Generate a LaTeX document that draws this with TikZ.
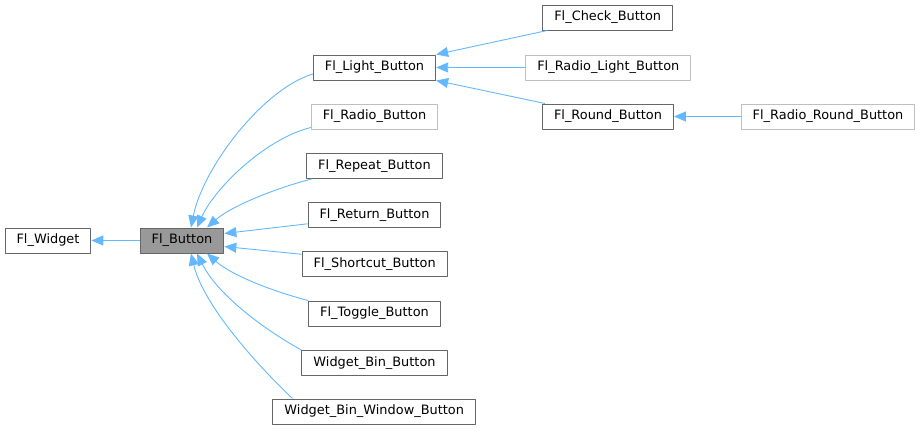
\documentclass[tikz,border=0pt]{standalone}
\usepackage{fontspec}
\setmainfont{DejaVu Sans}
\usepackage{tikz}
\usetikzlibrary{
  arrows.meta,
  positioning
}
\definecolor{DoxEdge}{HTML}{63B8FF}
\definecolor{DoxBorder}{HTML}{666666}
\definecolor{DoxBorderLight}{HTML}{BFBFBF}
\definecolor{DoxFocus}{HTML}{999999}
\definecolor{DoxText}{HTML}{000000}
\tikzset{
  every picture/.style = {line join=round},
  every node/.style = {font=\fontsize{12.9pt}{15pt}\selectfont, text=DoxText},
  class/.style = {
    draw=DoxBorder,
    fill=white,
    line width=1pt,
    minimum height=25pt,
    inner xsep=11.5pt,
    inner ysep=0pt
  },
  class undoc/.style = {class, draw=DoxBorderLight},
  class focus/.style = {class, fill=DoxFocus},
  inherit/.style = {-{Triangle[length=12pt,width=10pt]}, draw=DoxEdge, line width=0.9pt},
}

\begin{document}
\begin{tikzpicture}[x=1pt,y=-1pt]
  \useasboundingbox (0,0) rectangle (921,431);

  % base classes
  \node[class] (widget) at (48,240.5) {Fl\_Widget};
  \node[class focus] (button) at (182,240.5) {Fl\_Button};

  % direct subclasses of Fl_Button
  \node[class] (light) at (374.5,67.5) {Fl\_Light\_Button};
  \node[class undoc] (radio) at (374.5,116.5) {Fl\_Radio\_Button};
  \node[class] (repeat) at (374.5,165.8) {Fl\_Repeat\_Button};
  \node[class] (return) at (374.5,214.8) {Fl\_Return\_Button};
  \node[class] (shortcut) at (374.7,264.3) {Fl\_Shortcut\_Button};
  \node[class] (toggle) at (374.5,313.5) {Fl\_Toggle\_Button};
  \node[class] (bin) at (374.5,363) {Widget\_Bin\_Button};
  \node[class] (binwin) at (374.2,411.5) {Widget\_Bin\_Window\_Button};

  % subclasses of Fl_Light_Button
  \node[class] (check) at (607.7,17.5) {Fl\_Check\_Button};
  \node[class undoc] (radiolight) at (608.3,67.5) {Fl\_Radio\_Light\_Button};
  \node[class] (round) at (608,116.5) {Fl\_Round\_Button};
  \node[class undoc] (radioround) at (828,116.5) {Fl\_Radio\_Round\_Button};

  \draw[inherit] (button.west) -- (widget.east);

  \draw[inherit] ([yshift=-6.5pt]light.west) .. controls +(-50,15) and +(12,-60) .. ([xshift=9pt]button.north);
  \draw[inherit] ([yshift=2pt]radio.south west) .. controls +(-45,11) and +(18,-40) .. ([xshift=15pt]button.north);
  \draw[inherit] ([xshift=6pt]repeat.south west) .. controls +(-35,9) and +(25,-22) .. ([xshift=25pt]button.north);
  \draw[inherit] ([yshift=4pt]return.south west) -- ([yshift=7pt]button.east);
  \draw[inherit] ([yshift=-3pt]shortcut.north west) -- ([yshift=-6pt]button.east);
  \draw[inherit] (toggle.north west) .. controls +(-35,-9) and +(25,22) .. ([xshift=25pt]button.south);
  \draw[inherit] (bin.north west) .. controls +(-40,-22) and +(20,40) .. ([xshift=15pt]button.south);
  \draw[inherit] ([xshift=20pt]binwin.north west) .. controls +(-40,-38) and +(12,50) .. ([xshift=9pt]button.south);

  \draw[inherit] ([xshift=5pt]check.south west) -- (light.north east);
  \draw[inherit] (radiolight.west) -- (light.east);
  \draw[inherit] ([xshift=3pt]round.north west) -- (light.south east);
  \draw[inherit] (radioround.west) -- (round.east);
\end{tikzpicture}
\end{document}
